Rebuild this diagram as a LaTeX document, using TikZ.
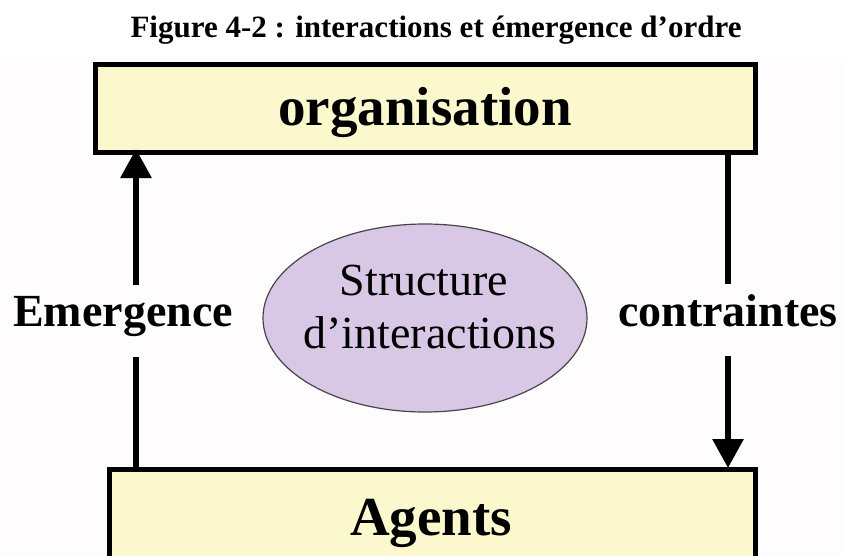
\documentclass[tikz,border=0pt]{standalone}
\usepackage{fontspec}
\setmainfont{Liberation Serif}
\usetikzlibrary{arrows.meta,shapes.geometric}
\definecolor{boxfill}{RGB}{250,248,204}
\definecolor{ellfill}{RGB}{216,200,230}
\definecolor{bgtint}{RGB}{254,252,252}
\definecolor{ellline}{RGB}{70,70,70}
\begin{document}
\begin{tikzpicture}[x=1pt,y=-1pt,
  boxstyle/.style={draw=black, line width=5pt, fill=boxfill, rectangle, inner sep=0pt},
  bigtext/.style={font=\fontsize{55}{60}\selectfont\bfseries, inner sep=0pt, anchor=base},
  lbl/.style={font=\fontsize{46}{50}\selectfont\bfseries, fill=bgtint, inner xsep=2pt, inner ysep=0pt, anchor=base},
  elltext/.style={font=\fontsize{46}{50}\selectfont, inner sep=0pt, anchor=base},
  flow/.style={line width=6pt, -{Triangle[width=30pt,length=29pt]}},
]
\clip (0,0) rectangle (843,555);
\fill[white] (0,0) rectangle (843,555);
\fill[bgtint] (0,58) rectangle (843,555);
% title
\node[font=\fontsize{31}{34}\selectfont\bfseries, anchor=base, inner sep=0pt] (title) at (436,37) {Figure 4-2 : interactions et émergence d’ordre};
% boxes
\node[boxstyle, minimum width=660pt, minimum height=88pt] (org) at (425.5,108.5) {};
\node[bigtext] (orgtext) at (425,125) {organisation};
\node[boxstyle, minimum width=646pt, minimum height=120pt] (agents) at (432.5,529.5) {};
\node[bigtext] (agtext) at (431,535) {Agents};
% ellipse
\node[ellipse, draw=ellline, line width=1.2pt, fill=ellfill, minimum width=324pt, minimum height=188pt, inner sep=0pt] (ell) at (425,318) {};
\node[elltext] (s1) at (424,295) {Structure};
\node[elltext] (s2) at (430,348) {d’interactions};
% connectors
\coordinate (emB) at (136,467);
\coordinate (emT) at (136,149);
\coordinate (coT) at (728,152);
\coordinate (coB) at (728,468);
\draw[flow] (emB) -- (emT);
\draw[flow] (coT) -- (coB);
% labels
\node[lbl, minimum height=72pt, text depth=20pt] (em) at (123,326) {Emergence};
\node[lbl, minimum height=72pt, text depth=20pt] (co) at (728,326) {contraintes};
\end{tikzpicture}
\end{document}
